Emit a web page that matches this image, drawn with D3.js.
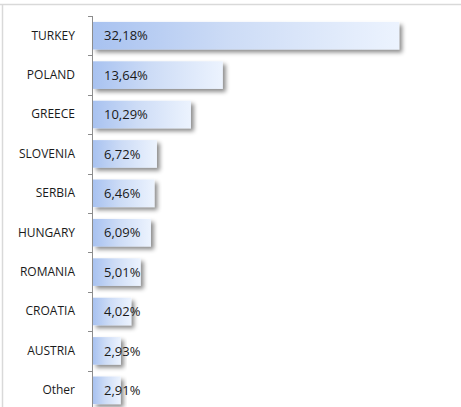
<!DOCTYPE html>
<html><head><meta charset="utf-8">
<script src="https://cdn.jsdelivr.net/npm/d3@7"></script>
<style>html,body{margin:0;padding:0;background:#fff;overflow:hidden}</style>
</head><body>
<script>
const categories = ["TURKEY","POLAND","GREECE","SLOVENIA","SERBIA","HUNGARY","ROMANIA","CROATIA","AUSTRIA","Other"];
const values = [32.18,13.64,10.29,6.72,6.46,6.09,5.01,4.02,2.93,2.91];
const valueLabels = ["32,18%","13,64%","10,29%","6,72%","6,46%","6,09%","5,01%","4,02%","2,93%","2,91%"];

const W = 461, H = 407;
const FONT = "'Open Sans', sans-serif";
const svg = d3.select("body").append("svg").attr("width", W).attr("height", H);
const defs = svg.append("defs");
const grad = defs.append("linearGradient").attr("id","barGrad").attr("x1","0").attr("x2","1").attr("y1","0").attr("y2","0");
grad.append("stop").attr("offset","0%").attr("stop-color","#a8c2f0");
grad.append("stop").attr("offset","45%").attr("stop-color","#cddcf6");
grad.append("stop").attr("offset","100%").attr("stop-color","#ecf3fe");
const f = defs.append("filter").attr("id","shadow").attr("x","-10%").attr("y","-30%").attr("width","130%").attr("height","180%");
f.append("feDropShadow").attr("dx",3).attr("dy",3).attr("stdDeviation",2).attr("flood-color","#000").attr("flood-opacity",0.45);

// frame remnants
svg.append("line").attr("x1",0).attr("x2",W).attr("y1",4.5).attr("y2",4.5).attr("stroke","#d9d9d9").attr("stroke-width",1.5);
svg.append("line").attr("x1",2.5).attr("x2",2.5).attr("y1",4.5).attr("y2",H).attr("stroke","#d9d9d9").attr("stroke-width",1.5);
svg.append("text").attr("x",407).attr("y",-4).attr("font-family",FONT).attr("font-size",14).attr("fill","#4f81bd").text("g");

const y = d3.scaleBand().domain(categories).range([16, 16 + 39.4*categories.length]).paddingInner(0.3).paddingOuter(0.15);
const x = d3.scaleLinear().domain([0,35]).range([93, 93 + 333]);

const g = svg.append("g");
g.selectAll("rect.bar").data(values).join("rect").attr("class","bar")
  .attr("x", x(0)).attr("y",(d,i)=>y(categories[i]))
  .attr("width", d=>x(d)-x(0)).attr("height", y.bandwidth())
  .attr("fill","url(#barGrad)").attr("filter","url(#shadow)");

g.selectAll("text.val").data(valueLabels).join("text").attr("class","val")
  .attr("x", 104).attr("y",(d,i)=>y(categories[i]) + y.bandwidth()/2)
  .attr("dy","0.36em").attr("font-family",FONT).attr("font-size",13).attr("fill","#1a1a1a")
  .text(d=>d);

// axis
const axis = svg.append("g").attr("transform","translate(92,0)");
axis.call(d3.axisLeft(y).tickSize(0).tickPadding(17));
axis.select(".domain").remove();
axis.selectAll(".tick text").attr("font-family",FONT).attr("font-size",12).attr("font-weight","normal").attr("fill","#1a1a1a");
axis.append("line").attr("x1",0.5).attr("x2",0.5).attr("y1",16).attr("y2",H).attr("stroke","#8c8c8c");
const bounds = d3.range(categories.length+1).map(i => 16 + i*y.step());
axis.selectAll("line.tk").data(bounds).join("line").attr("class","tk")
  .attr("x1",-4).attr("x2",0.5).attr("y1",d=>Math.round(d)+0.5).attr("y2",d=>Math.round(d)+0.5).attr("stroke","#8c8c8c");
</script>
</body></html>
